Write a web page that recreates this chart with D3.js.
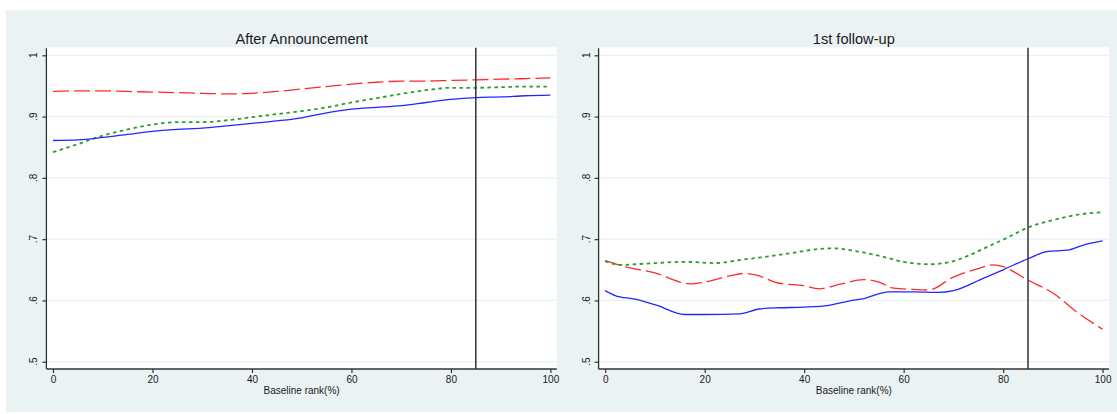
<!DOCTYPE html>
<html>
<head>
<meta charset="utf-8">
<script src="https://cdn.jsdelivr.net/npm/d3@7"></script>
<style>
  html, body { margin: 0; padding: 0; background: #ffffff; }
  svg { display: block; }
  text { font-family: "Liberation Sans", Arial, Helvetica, sans-serif; fill: #1a1a1a; }
</style>
</head>
<body>
<svg id="chart" width="1117" height="414"></svg>
<script>
// ---- data ----------------------------------------------------------------
const panelTitles = ["After Announcement", "1st follow-up"];
const xTicks = [0, 20, 40, 60, 80, 100];
const yTicks = [0.5, 0.6, 0.7, 0.8, 0.9, 1];
const yTickLabels = [".5", ".6", ".7", ".8", ".9", "1"];
const cutoffRank = 85;

// After Announcement
const annRank  = [0, 5, 10, 15, 20, 25, 30, 35, 40, 45, 50, 55, 60, 65, 70, 75, 80, 85, 90, 95, 100];
const annBlue  = [.861, .862, .866, .871, .876, .879, .881, .885, .889, .893, .898, .906, .912, .915, .918, .923, .928, .931, .932, .934, .935];
const annRed   = [.941, .942, .942, .941, .940, .939, .938, .937, .938, .941, .945, .949, .953, .956, .958, .958, .959, .960, .961, .962, .963];
const annGreen = [.842, .855, .869, .879, .887, .891, .891, .894, .899, .904, .909, .915, .923, .930, .937, .943, .947, .947, .948, .949, .949];

// 1st follow-up
const fuBlueRank  = [0, 2, 6, 10, 16, 20, 27, 31, 35, 40, 45, 49, 52, 57, 62, 67, 70, 76, 80, 85, 89, 93, 96, 100];
const fuBlue      = [.616, .608, .602, .593, .577, .577, .578, .586, .588, .589, .592, .599, .603, .614, .614, .613, .616, .636, .650, .668, .680, .682, .690, .697];
const fuRedRank   = [0, 5, 10, 15, 17, 20, 25, 28, 30, 35, 40, 43, 47, 52, 55, 58, 62, 65, 70, 75, 78, 80, 85, 90, 95, 100];
const fuRed       = [.665, .653, .645, .630, .627, .630, .640, .644, .642, .628, .624, .619, .626, .634, .630, .620, .618, .617, .638, .652, .658, .655, .633, .612, .580, .553];
const fuGreenRank = [0, 3, 10, 16, 22, 28, 33, 38, 43, 46, 50, 55, 60, 65, 69, 73, 77, 81, 85, 90, 95, 100];
const fuGreen     = [.664, .658, .661, .663, .661, .667, .672, .678, .684, .685, .681, .673, .663, .659, .662, .673, .688, .703, .719, .731, .740, .744];

// ---- layout ----------------------------------------------------------------
const svg = d3.select("#chart");
const bgColor = "#eaf2f3";

svg.append("rect")
  .attr("x", 6).attr("y", 10)
  .attr("width", 1111).attr("height", 402)
  .attr("fill", bgColor);

const panels = [
  { left: 46.4, title: panelTitles[0], series: [
      { x: annRank, y: annRed,   color: "#ff2a2a", width: 1.3, dash: "16,5" },
      { x: annRank, y: annGreen, color: "#2f9a2f", width: 1.8, dash: "3.5,3.5" },
      { x: annRank, y: annBlue,  color: "#2525ff", width: 1.3, dash: null }
  ]},
  { left: 598.6, title: panelTitles[1], series: [
      { x: fuRedRank,   y: fuRed,   color: "#ff2a2a", width: 1.3, dash: "16,5" },
      { x: fuGreenRank, y: fuGreen, color: "#2f9a2f", width: 1.8, dash: "3.5,3.5" },
      { x: fuBlueRank,  y: fuBlue,  color: "#2525ff", width: 1.3, dash: null }
  ]}
];

const plotW = 510.4;
const plotTop = 47.3, plotBottom = 369;
const y = d3.scaleLinear().domain([0.5, 1]).range([361.7, 55.3]);
const axisColor = "#333333";

panels.forEach(p => {
  const x = d3.scaleLinear().domain([0, 100]).range([p.left + 6.6, p.left + plotW - 6.4]);
  const g = svg.append("g");

  // plot region
  g.append("rect")
    .attr("x", p.left).attr("y", plotTop)
    .attr("width", plotW).attr("height", plotBottom - plotTop)
    .attr("fill", "#ffffff");

  // horizontal grid
  g.append("g").selectAll("line").data(yTicks).join("line")
    .attr("x1", p.left).attr("x2", p.left + plotW)
    .attr("y1", d => y(d)).attr("y2", d => y(d))
    .attr("stroke", bgColor).attr("stroke-width", 1.2);

  // title
  g.append("text")
    .attr("x", p.left + plotW / 2).attr("y", 43.6)
    .attr("text-anchor", "middle")
    .attr("font-size", "14.6px")
    .text(p.title);

  // series
  p.series.forEach(s => {
    const pts = s.x.map((r, i) => [r, s.y[i]]);
    const line = d3.line().x(d => x(d[0])).y(d => y(d[1])).curve(d3.curveMonotoneX);
    g.append("path")
      .attr("d", line(pts))
      .attr("fill", "none")
      .attr("stroke", s.color)
      .attr("stroke-width", s.width)
      .attr("stroke-dasharray", s.dash);
  });

  // cutoff line
  g.append("line")
    .attr("x1", x(cutoffRank)).attr("x2", x(cutoffRank))
    .attr("y1", plotTop + 0.5).attr("y2", plotBottom)
    .attr("stroke", axisColor).attr("stroke-width", 1.5);

  // x axis
  const xAxis = g.append("g")
    .attr("transform", `translate(0,${plotBottom})`)
    .call(d3.axisBottom(x).tickValues(xTicks).tickSize(4).tickPadding(3).tickSizeOuter(0));
  xAxis.select(".domain").remove();
  xAxis.append("line")
    .attr("x1", p.left).attr("x2", p.left + plotW)
    .attr("stroke", axisColor).attr("stroke-width", 1.3);
  xAxis.selectAll(".tick line").attr("stroke", axisColor).attr("stroke-width", 1.2);
  xAxis.selectAll(".tick text")
    .attr("font-size", "10px")
    .attr("font-family", "Liberation Sans, Arial, sans-serif")
    .attr("fill", "#1a1a1a");

  g.append("text")
    .attr("x", p.left + plotW / 2).attr("y", 394)
    .attr("text-anchor", "middle")
    .attr("font-size", "10px")
    .text("Baseline rank(%)");

  // y axis
  const yAxis = g.append("g")
    .attr("transform", `translate(${p.left},0)`)
    .call(d3.axisLeft(y).tickValues(yTicks).tickSize(4).tickSizeOuter(0).tickFormat(""));
  yAxis.select(".domain").remove();
  yAxis.append("line")
    .attr("y1", plotTop + 1).attr("y2", plotBottom)
    .attr("stroke", axisColor).attr("stroke-width", 1.3);
  yAxis.selectAll(".tick line").attr("stroke", axisColor).attr("stroke-width", 1.2);

  g.append("g").selectAll("text").data(yTicks).join("text")
    .attr("transform", d => `translate(${p.left - 9},${y(d)}) rotate(-90)`)
    .attr("text-anchor", "middle")
    .attr("font-size", "10px")
    .text((d, i) => yTickLabels[i]);
});
</script>
</body>
</html>
